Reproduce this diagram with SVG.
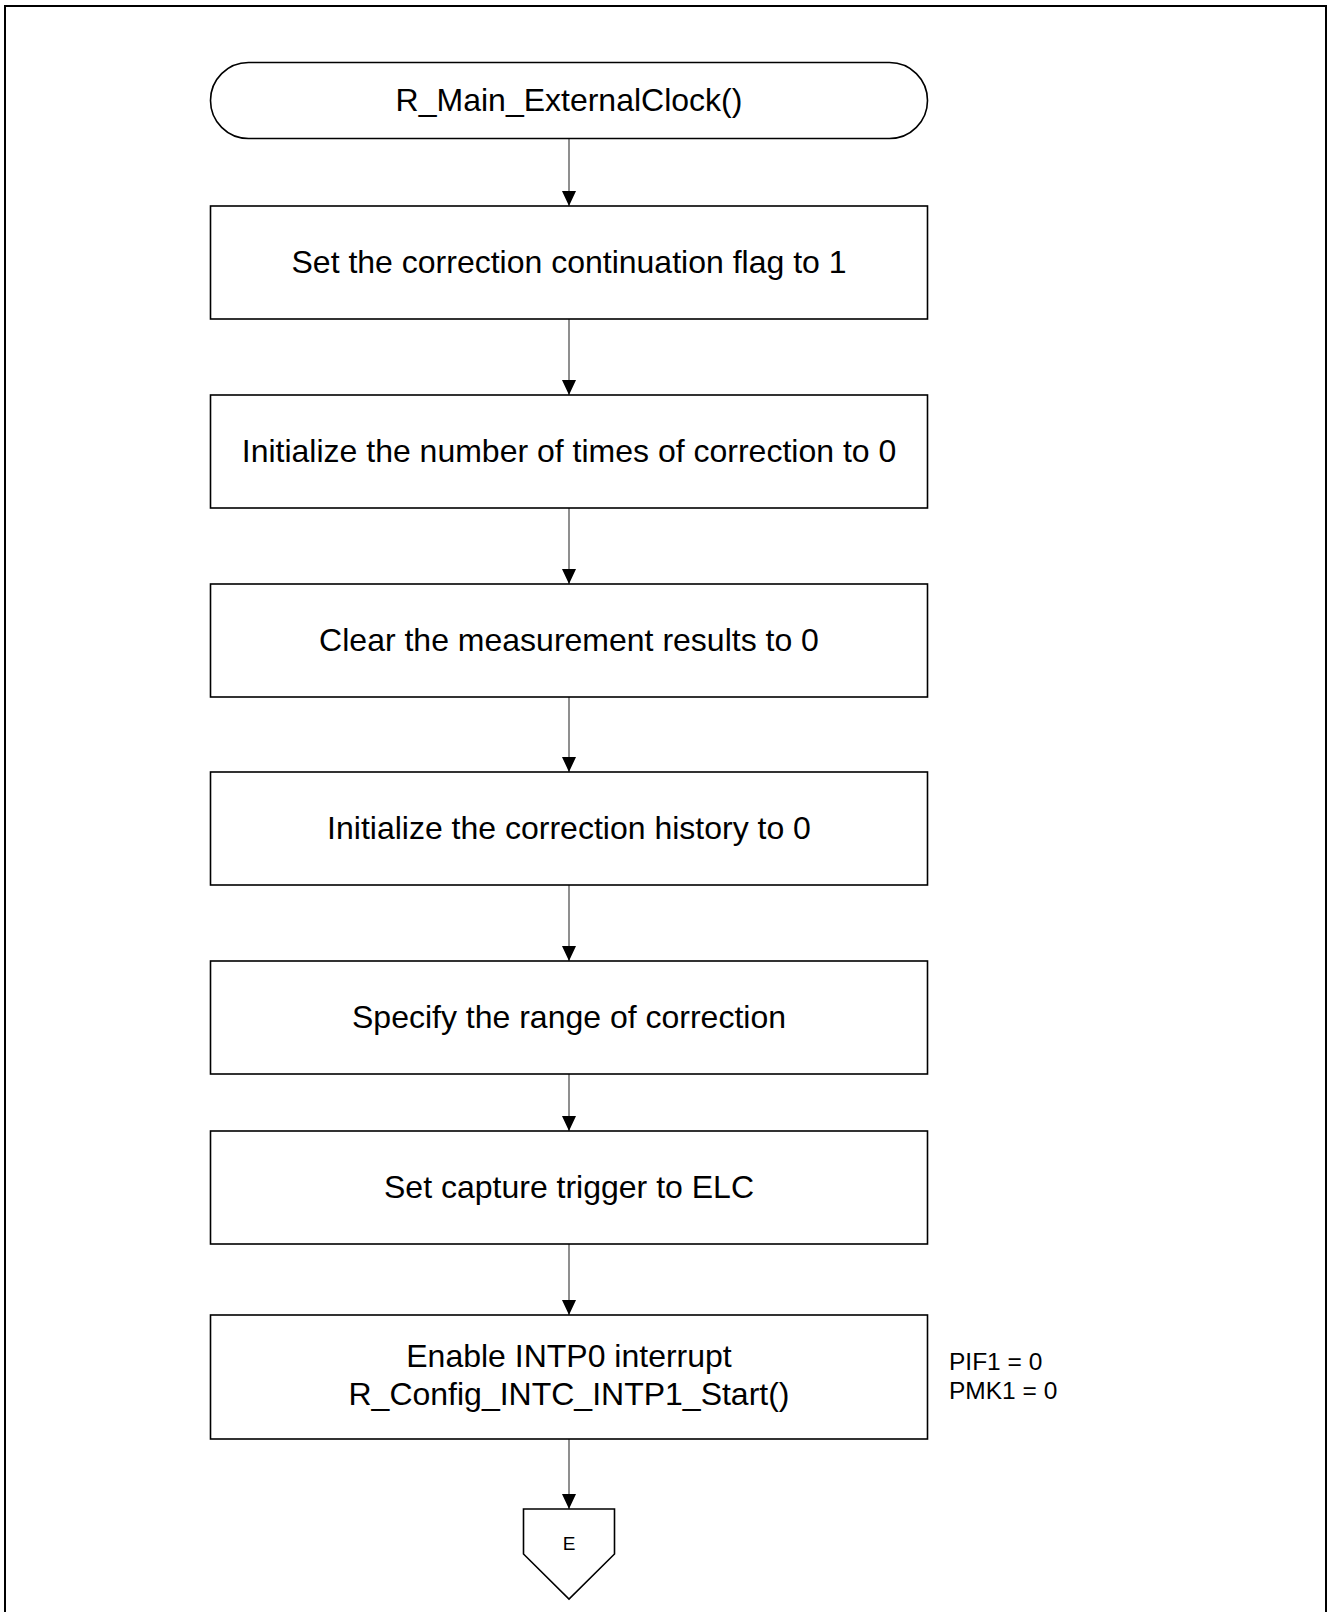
<svg xmlns="http://www.w3.org/2000/svg" width="1328" height="1612" viewBox="0 0 1328 1612">
<style>
.shape{fill:#fff;stroke:#000;stroke-width:1.6}
.lbl{font-family:"Liberation Sans",Arial,sans-serif;font-size:32px;fill:#000;text-anchor:middle}
.note{font-family:"Liberation Sans",Arial,sans-serif;font-size:24.5px;fill:#000}
.small{font-family:"Liberation Sans",Arial,sans-serif;font-size:19px;fill:#000;text-anchor:middle}
.conn{stroke:#333;stroke-width:1.1;fill:none;marker-end:url(#arrow)}
</style>
<defs>
<marker id="arrow" markerUnits="userSpaceOnUse" markerWidth="15" markerHeight="14" refX="15" refY="7" orient="auto" viewBox="0 0 15 14">
<path d="M0,0 L15,7 L0,14 Z" fill="#000"/>
</marker>
</defs>
<rect x="0" y="0" width="1328" height="1612" fill="#fff"/>
<rect x="5" y="6" width="1321" height="1640" fill="none" stroke="#000" stroke-width="2"/>
<g id="connectors">
<line class="conn" x1="569" y1="139" x2="569" y2="206"/>
<line class="conn" x1="569" y1="319" x2="569" y2="395"/>
<line class="conn" x1="569" y1="508" x2="569" y2="584"/>
<line class="conn" x1="569" y1="697" x2="569" y2="772"/>
<line class="conn" x1="569" y1="885" x2="569" y2="961"/>
<line class="conn" x1="569" y1="1074" x2="569" y2="1131"/>
<line class="conn" x1="569" y1="1244" x2="569" y2="1315"/>
<line class="conn" x1="569" y1="1439" x2="569" y2="1509"/>
</g>
<g id="start">
<rect class="shape" x="210.5" y="62.5" width="717" height="76" rx="38" ry="38"/>
<text class="lbl" x="569" y="111">R_Main_ExternalClock()</text>
</g>
<g id="step1">
<rect class="shape" x="210.5" y="206" width="717" height="113"/>
<text class="lbl" x="569" y="273">Set the correction continuation flag to 1</text>
</g>
<g id="step2">
<rect class="shape" x="210.5" y="395" width="717" height="113"/>
<text class="lbl" x="569" y="462">Initialize the number of times of correction to 0</text>
</g>
<g id="step3">
<rect class="shape" x="210.5" y="584" width="717" height="113"/>
<text class="lbl" x="569" y="651">Clear the measurement results to 0</text>
</g>
<g id="step4">
<rect class="shape" x="210.5" y="772" width="717" height="113"/>
<text class="lbl" x="569" y="839">Initialize the correction history to 0</text>
</g>
<g id="step5">
<rect class="shape" x="210.5" y="961" width="717" height="113"/>
<text class="lbl" x="569" y="1028">Specify the range of correction</text>
</g>
<g id="step6">
<rect class="shape" x="210.5" y="1131" width="717" height="113"/>
<text class="lbl" x="569" y="1198">Set capture trigger to ELC</text>
</g>
<g id="step7">
<rect class="shape" x="210.5" y="1315" width="717" height="124"/>
<text class="lbl" x="569" y="1367">Enable INTP0 interrupt</text>
<text class="lbl" x="569" y="1405">R_Config_INTC_INTP1_Start()</text>
</g>
<g id="note7">
<text class="note" x="949" y="1370">PIF1 = 0</text>
<text class="note" x="949" y="1399">PMK1 = 0</text>
</g>
<g id="offpageE">
<path class="shape" d="M523.5,1509 L614.5,1509 L614.5,1554 L569,1599 L523.5,1554 Z" stroke-width="1"/>
<text class="small" x="569" y="1550">E</text>
</g>
</svg>
